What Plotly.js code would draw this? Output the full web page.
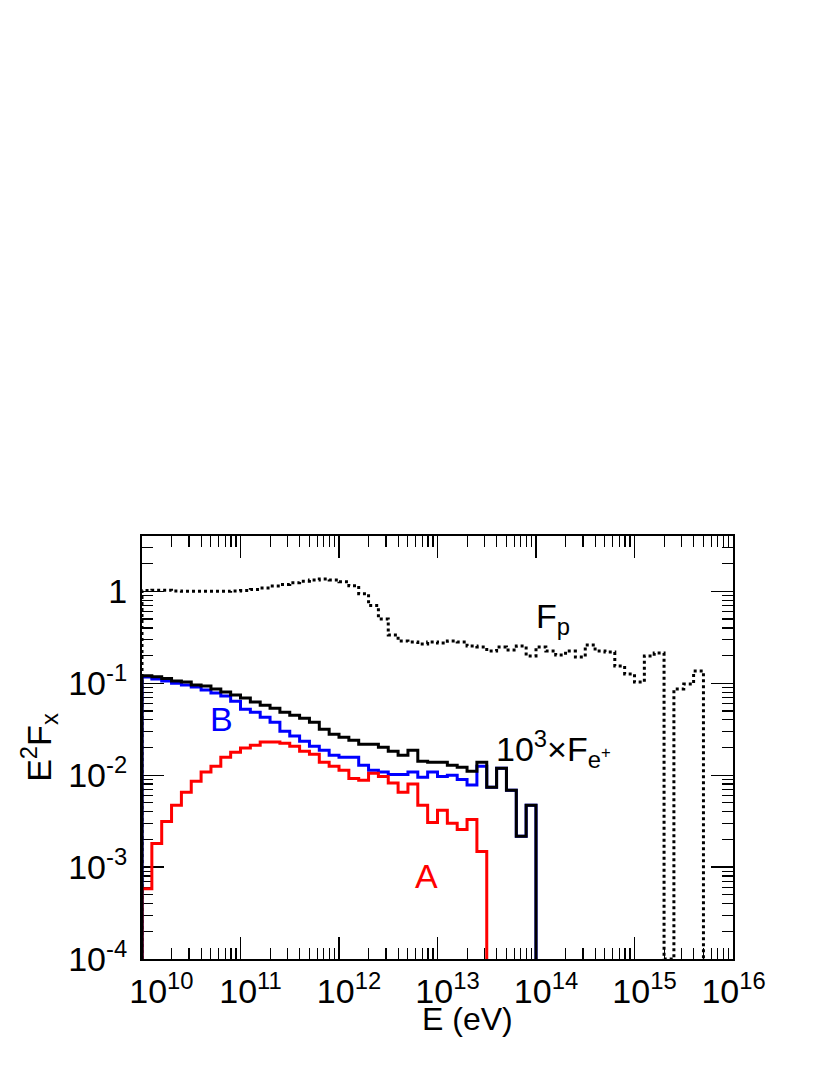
<!DOCTYPE html>
<html>
<head>
<meta charset="utf-8">
<script src="https://cdn.plot.ly/plotly-3.0.1.min.js"></script>
<style>
  body { margin: 0; background: #fff; }
  #plot { width: 830px; height: 1075px; }
</style>
</head>
<body>
<div id="plot"></div>
<script>
// histogram bins: 0.1 decade wide, first edge at 10^10 eV
const binStart = 10;
const binWidth = 0.1;

// E^2 F_p (dotted), 0 = empty bin
const protonFlux = [1.02, 1.03, 1.03, 1.01, 1.00, 1.00, 1.00, 1.00, 1.00, 1.01,
                    1.02, 1.05, 1.09, 1.14, 1.19, 1.24, 1.29, 1.33, 1.36, 1.33,
                    1.27, 1.15, 0.94, 0.70, 0.50, 0.336, 0.288, 0.281, 0.267, 0.281,
                    0.274, 0.288, 0.281, 0.254, 0.248, 0.224, 0.248, 0.230, 0.254, 0.198,
                    0.248, 0.224, 0.203, 0.224, 0.193, 0.261, 0.224, 0.219, 0.154, 0.126,
                    0.103, 0.198, 0.213, 0, 0.0865, 0.098, 0.136];

// 10^3 x E^2 F_e+ (black, total = A + B)
const positronFlux = [0.121, 0.118, 0.113, 0.106, 0.103, 0.0957, 0.0933, 0.0865, 0.0802, 0.0743,
                      0.0690, 0.0624, 0.0578, 0.0536, 0.0485, 0.0450, 0.0417, 0.0377, 0.0316, 0.0279,
                      0.0259, 0.0240, 0.0217, 0.0217, 0.0201, 0.0182, 0.0165, 0.0187, 0.0142, 0.0138,
                      0.0138, 0.0128, 0.0122, 0.0110, 0.0138, 0.00738, 0.0119, 0.00684, 0.00216, 0.00470];

// component B (blue); above 10^13.5 it is the whole total and sits under the black line
const fluxB = [0.117, 0.111, 0.106, 0.100, 0.0957, 0.0910, 0.0844, 0.0782, 0.0725, 0.0639,
               0.0523, 0.0485, 0.0428, 0.0377, 0.0301, 0.0266, 0.0234, 0.0207, 0.0187, 0.0165,
               0.0157, 0.0157, 0.0128, 0.0113, 0.0108, 0.0102, 0.0102, 0.0108, 0.0095, 0.0108,
               0.0097, 0.0100, 0.0090, 0.0078, 0.0125, 0.00738, 0.0119, 0.00684, 0.00216, 0.00470];

// component A (red)
const fluxA = [5.8e-4, 1.81e-3, 3.14e-3, 4.70e-3, 6.51e-3, 8.59e-3, 1.08e-2, 1.25e-2, 1.57e-2, 1.78e-2,
               1.97e-2, 2.12e-2, 2.29e-2, 2.29e-2, 2.23e-2, 2.07e-2, 1.82e-2, 1.69e-2, 1.38e-2, 1.25e-2,
               1.13e-2, 9.2e-3, 8.8e-3, 1.05e-2, 9.7e-3, 8.2e-3, 6.5e-3, 8.0e-3, 4.7e-3, 3.06e-3,
               4.14e-3, 2.99e-3, 2.57e-3, 3.30e-3, 1.48e-3];

const xTickVals = [1e10, 1e11, 1e12, 1e13, 1e14, 1e15, 1e16];
// nbsp padding keeps the end labels inside the frame, like ROOT does
const xTickText = ['\u00a0\u00a010<sup>10</sup>', '10<sup>11</sup>', '10<sup>12</sup>', '10<sup>13</sup>',
                   '10<sup>14</sup>', '10<sup>15</sup>', '10<sup>16</sup>\u00a0\u00a0'];
const yTickVals = [1e-4, 1e-3, 1e-2, 1e-1, 1];
const yTickText = ['10<sup>-4</sup>', '10<sup>-3</sup>', '10<sup>-2</sup>', '10<sup>-1</sup>', '1'];

const yMin = 1e-4, yMax = 4;

// ROOT style histogram outline: starts and ends on the axis floor
function steps(vals) {
    let xs = [Math.pow(10, binStart)], ys = [yMin];
    vals.forEach((v, i) => {
        xs.push(Math.pow(10, binStart + i * binWidth));
        ys.push(v > 0 ? v : yMin);
    });
    let end = Math.pow(10, binStart + vals.length * binWidth);
    xs.push(end, end);
    ys.push(vals[vals.length - 1], yMin);
    return {x: xs, y: ys};
}

function minorTicks(lo, hi) {
    let t = [];
    for (let d = lo; d < hi; d++)
        for (let k = 2; k <= 9; k++) t.push(k * Math.pow(10, d));
    return t;
}

function hist(vals, color, dash) {
    let s = steps(vals);
    return {x: s.x, y: s.y, type: 'scatter', mode: 'lines',
            line: {shape: 'hv', color: color, width: 3, dash: dash || 'solid'},
            hoverinfo: 'skip'};
}

const data = [
    hist(protonFlux, '#000000', '3px,3px'),
    hist(fluxB, '#0000ff'),
    hist(fluxA, '#ff0000'),
    hist(positronFlux, '#000000')
];

const font = 'Liberation Sans, Arial, Helvetica, sans-serif';

const axisCommon = {
    type: 'log',
    showline: true, linecolor: '#000', linewidth: 2, mirror: 'allticks',
    showgrid: false, zeroline: false,
    ticks: 'inside', ticklen: 22, tickwidth: 1.2, tickcolor: '#000',
    tickmode: 'array',
    tickfont: {family: font, size: 34, color: '#000'},
    layer: 'below traces'
};

const layout = {
    width: 830, height: 1075,
    margin: {l: 142, r: 97, t: 536, b: 116},
    paper_bgcolor: '#fff', plot_bgcolor: '#fff',
    showlegend: false,
    font: {family: font, color: '#000'},
    xaxis: Object.assign({}, axisCommon, {
        range: [10, 16],
        tickvals: xTickVals, ticktext: xTickText,
        ticklabelstandoff: 1, ticklabelshift: 10,
        minor: {tickmode: 'array', tickvals: minorTicks(10, 16), ticks: 'inside', ticklen: 11,
                tickwidth: 1.2, tickcolor: '#000', showgrid: false}
    }),
    yaxis: Object.assign({}, axisCommon, {
        range: [Math.log10(yMin), Math.log10(yMax)],
        tickvals: yTickVals, ticktext: yTickText,
        ticklabelstandoff: 6,
        minor: {tickmode: 'array', tickvals: minorTicks(-4, 1), ticks: 'inside', ticklen: 11,
                tickwidth: 1.2, tickcolor: '#000', showgrid: false},
        title: {text: 'E<sup>2</sup>F<sub>x</sub>', font: {family: font, size: 34}, standoff: 6}
    }),
    annotations: [
        // x axis title, placed as ROOT puts it (a little right of centre)
        {xref: 'paper', yref: 'paper', x: 0.55, y: -0.143, xanchor: 'center', yanchor: 'middle',
         text: 'E (eV)', showarrow: false, font: {family: font, size: 32, color: '#000'}},
        {x: 10.81, y: -1.39, text: 'B', showarrow: false,
         font: {family: font, size: 34, color: '#0000ff'}},
        {x: 12.89, y: -3.10, text: 'A', showarrow: false,
         font: {family: font, size: 34, color: '#ff0000'}},
        {x: 13.98, y: -0.30, text: 'F<sub>p</sub>', showarrow: false, xanchor: 'left',
         font: {family: font, size: 34, color: '#000'}},
        {x: 13.57, y: -1.72, text: '10<sup>3</sup>×F<sub>e<sup>+</sup></sub>', showarrow: false,
         xanchor: 'left', font: {family: font, size: 34, color: '#000'}}
    ]
};

Plotly.newPlot('plot', data, layout, {staticPlot: true});
</script>
</body>
</html>
